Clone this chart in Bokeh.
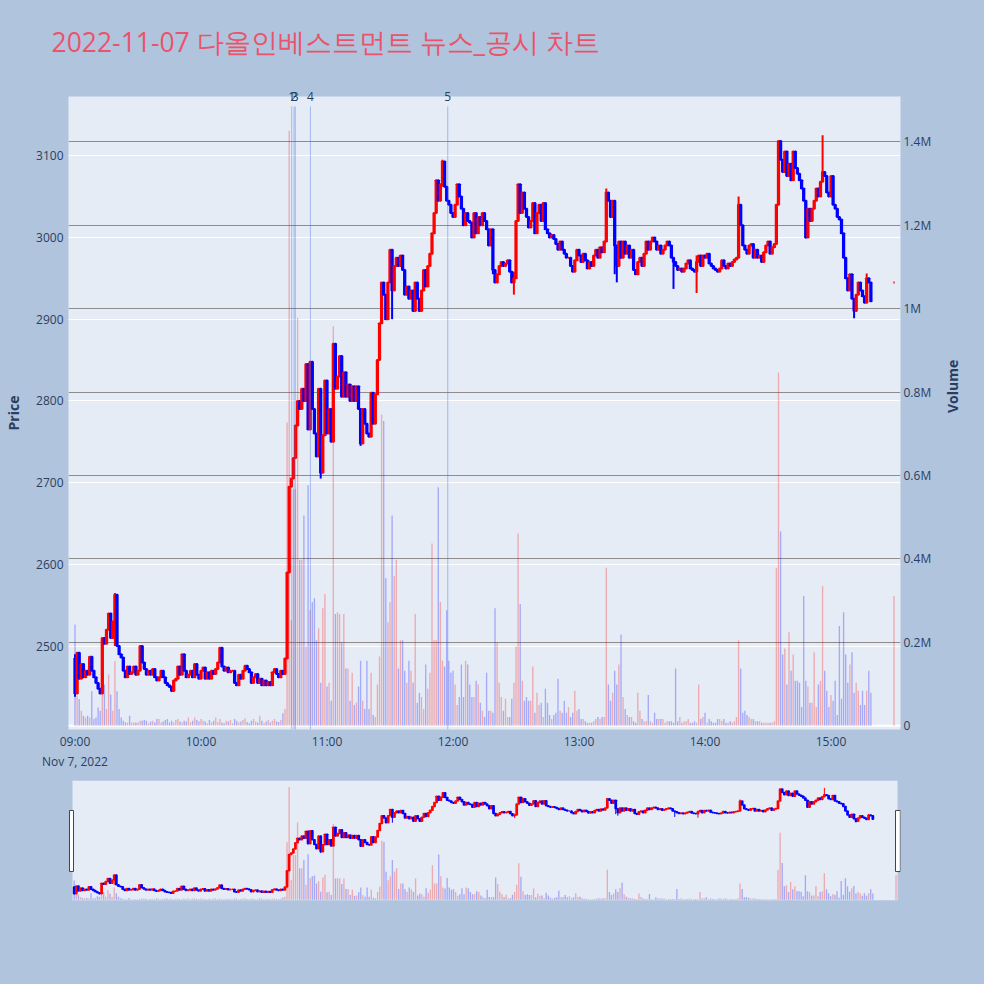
import sys, math
from bokeh.plotting import figure
from bokeh.models import Range1d, LinearAxis, FixedTicker, ColumnDataSource, Span, Grid
from bokeh.layouts import column
from bokeh.embed import file_html
from bokeh.resources import INLINE

# ---------------- data ----------------
TITLE = "2022-11-07 다올인베스트먼트 뉴스_공시 차트"
DATE_LABEL = "Nov 7, 2022"
PRICE_TITLE = "Price"
VOLUME_TITLE = "Volume"

first_open = 2485
# 1-minute closes from 09:00 (index = minutes after 09:00)
closes = [
    2442, 2492, 2460, 2478, 2462, 2470, 2465, 2487, 2470, 2462,
    2455, 2448, 2442, 2510, 2503, 2520, 2540, 2510, 2530, 2563,
    2500, 2490, 2486, 2470, 2462, 2475, 2466, 2468, 2475, 2465,
    2470, 2500, 2480, 2472, 2465, 2470, 2465, 2472, 2462, 2458,
    2462, 2470, 2462, 2455, 2452, 2450, 2445, 2458, 2460, 2475,
    2465, 2490, 2470, 2462, 2465, 2470, 2462, 2478, 2465, 2460,
    2470, 2474, 2460, 2468, 2460, 2470, 2466, 2472, 2480, 2498,
    2475, 2470, 2474, 2468, 2470, 2470, 2455, 2452, 2465, 2460,
    2470, 2476, 2472, 2468, 2455, 2462, 2466, 2455, 2460, 2452,
    2458, 2452, 2456, 2452, 2468, 2472, 2466, 2462, 2470, 2466,
    2485, 2590, 2695, 2705, 2730, 2770, 2800, 2790, 2815, 2800,
    2845, 2765, 2848, 2790, 2760, 2732, 2815, 2712, 2758, 2825,
    2760, 2790, 2750, 2870, 2815, 2830, 2855, 2805, 2835, 2805,
    2820, 2800, 2818, 2800, 2818, 2790, 2748, 2790, 2772, 2760,
    2756, 2810, 2772, 2808, 2850, 2895, 2945, 2930, 2900, 2945,
    2985, 2935, 2965, 2975, 2965, 2978, 2960, 2930, 2940, 2925,
    2935, 2910, 2945, 2925, 2910, 2935, 2960, 2940, 2965, 2980,
    3005, 3030, 3070, 3045, 3065, 3093, 3062, 3045, 3040, 3030,
    3025, 3040, 3065, 3050, 3035, 3015, 3030, 3020, 3018, 3000,
    3030, 3005, 3025, 3015, 3030, 3020, 3010, 2990, 3010, 2960,
    2945, 2955, 2965, 2970, 2965, 2968, 2972, 2958, 2945, 2950,
    3020, 3065, 3030, 3055, 3035, 3025, 3012, 3020, 3042, 3005,
    3030, 3040, 3020, 3042, 3010, 3005, 3000, 3003, 2998, 2992,
    2985, 2995, 2985, 2980, 2975, 2975, 2965, 2958, 2972, 2985,
    2978, 2970, 2980, 2972, 2962, 2970, 2965, 2978, 2985, 2975,
    2988, 2982, 2995, 3055, 3045, 3025, 3045, 2990, 2965, 2995,
    2975, 2995, 2980, 2990, 2975, 2985, 2960, 2955, 2970, 2975,
    2965, 2980, 2995, 2985, 2995, 3000, 2995, 2985, 2990, 2980,
    2985, 2990, 2995, 2990, 2975, 2970, 2965, 2960, 2962, 2958,
    2962, 2968, 2972, 2962, 2960, 2958, 2970, 2978, 2965, 2978,
    2975, 2980, 2968, 2965, 2962, 2960, 2958, 2962, 2972, 2965,
    2962, 2968, 2965, 2970, 2973, 2975, 3040, 3015, 2990, 2985,
    2980, 2990, 2992, 2975, 2985, 2975, 2978, 2970, 2982, 2990,
    2995, 2980, 2988, 2992, 3040, 3118, 3095, 3080, 3105, 3075,
    3090, 3070, 3105, 3085, 3078, 3070, 3060, 3045, 3000, 3035,
    3020, 3035, 3045, 3060, 3050, 3068, 3080, 3075, 3055, 3050,
    3075, 3040, 3035, 3025, 3022, 3005, 2975, 2950, 2935, 2955,
    2925, 2910, 2930, 2945, 2935, 2928, 2920, 2950, 2945, 2922,
]

# wick extremes (minute, low, high) where the wick goes beyond the body
wick_minutes = [0, 19, 117, 136, 151, 175, 199, 209, 253, 257, 258, 285, 296, 316, 348, 356, 371, 377]
wick_lows = [2438, 2500, 2705, 2745, 2900, 3062, 2955, 2930, 2995, 2955, 2945, 2937, 2932, 2975, 2999, 3080, 2901, 2945]
wick_highs = [2490, 2565, 2760, 2790, 2985, 3095, 3010, 2958, 3060, 3045, 2990, 2975, 2978, 3050, 3045, 3125, 2925, 2956]

# volume per minute, thousands of shares
volumes_k = [
    243, 72, 64, 36, 24, 20, 24, 20, 83, 16,
    20, 44, 36, 79, 99, 40, 123, 75, 36, 155,
    83, 40, 20, 12, 8, 8, 24, 8, 8, 8,
    8, 12, 12, 14, 12, 6, 10, 12, 8, 16,
    16, 8, 10, 14, 16, 8, 12, 8, 14, 16,
    10, 8, 12, 10, 20, 8, 12, 20, 14, 10,
    16, 12, 10, 6, 14, 8, 12, 20, 9, 16,
    8, 6, 12, 10, 14, 6, 16, 12, 8, 10,
    14, 18, 9, 6, 12, 16, 10, 8, 24, 12,
    6, 10, 14, 8, 12, 16, 10, 9, 14, 30,
    40, 727, 1427, 253, 567, 567, 978, 398, 398, 504,
    190, 577, 277, 297, 306, 205, 234, 103, 282, 316,
    94, 103, 60, 958, 268, 272, 268, 200, 268, 137,
    137, 60, 127, 50, 55, 94, 156, 60, 40, 156,
    40, 127, 26, 21, 99, 166, 746, 731, 354, 248,
    297, 504, 359, 398, 137, 205, 205, 132, 103, 156,
    132, 103, 268, 55, 79, 69, 40, 147, 89, 127,
    437, 205, 205, 572, 297, 156, 142, 277, 156, 127,
    132, 99, 50, 69, 147, 69, 156, 147, 99, 69,
    69, 108, 99, 55, 36, 21, 127, 36, 36, 31,
    282, 200, 103, 69, 36, 65, 21, 21, 65, 103,
    190, 461, 292, 108, 60, 69, 60, 60, 142, 31,
    79, 50, 55, 21, 89, 55, 26, 16, 26, 31,
    113, 36, 31, 60, 31, 45, 21, 31, 84, 36,
    40, 16, 16, 11, 7, 7, 7, 11, 16, 21,
    16, 21, 21, 379, 99, 60, 79, 132, 99, 147,
    219, 69, 40, 26, 21, 21, 11, 7, 79, 36,
    16, 11, 11, 74, 11, 7, 31, 16, 16, 16,
    16, 7, 11, 11, 11, 7, 137, 11, 21, 7,
    11, 11, 16, 7, 7, 11, 7, 99, 16, 21,
    31, 7, 16, 11, 7, 7, 16, 16, 11, 16,
    7, 7, 11, 7, 11, 21, 205, 137, 31, 36,
    26, 21, 16, 16, 11, 11, 11, 7, 7, 7,
    7, 7, 7, 11, 379, 847, 466, 171, 185, 99,
    224, 132, 171, 108, 108, 103, 45, 311, 108, 94,
    55, 55, 176, 45, 99, 108, 335, 132, 84, 45,
    74, 60, 108, 26, 239, 65, 272, 171, 103, 147,
    176, 79, 103, 84, 50, 84, 50, 84, 132, 79,
]

# closing auction (15:30)
auction_time = "15:30"
auction_price = 2945
auction_volume_k = 311

news_times = ["10:43:12", "10:44:18", "10:44:54", "10:52:06", "11:57:30"]
news_labels = ["1", "2", "3", "4", "5"]

price_ticks = [2500, 2600, 2700, 2800, 2900, 3000, 3100]
volume_ticks = [0, 200000, 400000, 600000, 800000, 1000000, 1200000, 1400000]
volume_tick_labels = ["0", "0.2M", "0.4M", "0.6M", "0.8M", "1M", "1.2M", "1.4M"]
time_tick_labels = ["09:00", "10:00", "11:00", "12:00", "13:00", "14:00", "15:00"]

# ---------------- helpers ----------------
def to_min(t):
    parts = [int(v) for v in t.split(":")]
    while len(parts) < 3:
        parts.append(0)
    return round((parts[0] - 9) * 60 + parts[1] + parts[2] / 60.0, 2)

RED = "#ff0000"
BLUE = "#0000ff"
BG = "#b0c4de"
PLOT_BG = "#e5ecf6"
FONT = "Open Sans"
TXT = "#2a3f5f"

n = len(closes)
minutes = list(range(n))
opens = [first_open] + closes[:-1]
highs = [max(o, c) for o, c in zip(opens, closes)]
lows = [min(o, c) for o, c in zip(opens, closes)]
for wm, wl, wh in zip(wick_minutes, wick_lows, wick_highs):
    if 0 <= wm < n:
        highs[wm] = max(highs[wm], wh)
        lows[wm] = min(lows[wm], wl)
colors = [RED if c >= o else BLUE for o, c in zip(opens, closes)]

am = to_min(auction_time)
candles = ColumnDataSource(dict(
    x=minutes + [am],
    top=[max(o, c) for o, c in zip(opens, closes)] + [auction_price],
    bottom=[min(o, c) for o, c in zip(opens, closes)] + [auction_price],
    high=highs + [auction_price],
    low=lows + [auction_price],
    color=colors + [RED],
))

nv = len(volumes_k)
vcolors = [colors[i] if i < n else BLUE for i in range(nv)]
vols = ColumnDataSource(dict(
    x=list(range(nv)) + [am],
    v=[k * 1000 for k in volumes_k] + [auction_volume_k * 1000],
    color=vcolors + [RED],
))
print("closes", n, "volumes", nv, file=sys.stderr)

PRICE_RANGE = (2398, 3172.4)
VOL_RANGE = (-9000, 1509000)
X_RANGE = (-3.1, 393.1)

def plain(fig):
    fig.background_fill_color = BG
    fig.border_fill_color = BG
    fig.outline_line_color = None

# ---------------- title strip ----------------
t = figure(width=984, height=80, x_range=Range1d(0, 1), y_range=Range1d(0, 1), title=TITLE,
           output_backend="svg", toolbar_location=None, x_axis_location=None, y_axis_location=None,
           min_border_left=68, min_border_right=84, min_border_top=0, min_border_bottom=0)
plain(t)
t.xgrid.visible = False
t.ygrid.visible = False
t.title.text_font = FONT
t.title.text_font_size = "26.5px"
t.title.text_font_style = "normal"
t.title.text_color = "#e9546b"
t.title.align = "left"
t.title.offset = -17
t.title.standoff = 42

# ---------------- main chart ----------------
p = figure(width=984, height=692, x_range=Range1d(*X_RANGE), y_range=Range1d(*PRICE_RANGE),
           output_backend="svg", toolbar_location=None,
           min_border_left=68, min_border_right=84, min_border_top=16, min_border_bottom=40)
p.extra_y_ranges = {"vol": Range1d(*VOL_RANGE)}
plain(p)
p.title.visible = False
p.background_fill_color = PLOT_BG

def style_axis(ax):
    ax.axis_line_color = None
    ax.major_tick_line_color = None
    ax.minor_tick_line_color = None
    ax.major_tick_out = 0
    ax.major_tick_in = 0
    ax.minor_tick_out = 0
    ax.minor_tick_in = 0
    ax.major_label_text_font = FONT
    ax.major_label_text_font_size = "12px"
    ax.major_label_text_color = TXT
    ax.axis_label_text_font = FONT
    ax.axis_label_text_font_size = "14px"
    ax.axis_label_text_font_style = "bold"
    ax.axis_label_text_color = TXT

yax = p.yaxis[0]
yax.ticker = FixedTicker(ticks=price_ticks)
yax.axis_label = PRICE_TITLE
style_axis(yax)
yax.major_label_standoff = 5
yax.axis_label_standoff = 10

vax = LinearAxis(y_range_name="vol", ticker=FixedTicker(ticks=volume_ticks),
                 major_label_overrides={tk: lb for tk, lb in zip(volume_ticks, volume_tick_labels)},
                 axis_label=VOLUME_TITLE)
style_axis(vax)
vax.major_label_standoff = 3
vax.axis_label_standoff = 18
try:
    vax.axis_label_orientation = math.pi / 2
except Exception as e:
    print("no axis_label_orientation:", e, file=sys.stderr)
p.add_layout(vax, "right")

xax = p.xaxis[0]
tick_minutes = [to_min(x) for x in time_tick_labels]
xax.ticker = FixedTicker(ticks=tick_minutes)
overrides = {m: l for m, l in zip(tick_minutes, time_tick_labels)}
overrides[tick_minutes[0]] = time_tick_labels[0] + "\n" + DATE_LABEL
xax.major_label_overrides = overrides
style_axis(xax)
xax.major_label_standoff = 3

news_m = [to_min(x) for x in news_times]
nax = LinearAxis(ticker=FixedTicker(ticks=news_m),
                 major_label_overrides={m: l for m, l in zip(news_m, news_labels)})
style_axis(nax)
nax.major_label_standoff = -4
p.add_layout(nax, "above")

p.xgrid.visible = False
p.ygrid.grid_line_color = "white"
p.ygrid.grid_line_width = 1
p.add_layout(Grid(dimension=1, ticker=FixedTicker(ticks=volume_ticks[1:]), y_range_name="vol",
                  grid_line_color="#8c8c8c", grid_line_width=1))
p.add_layout(Span(location=0, dimension="width", y_range_name="vol", line_color="white",
                  line_width=2, level="underlay"))

def draw_data(fig, body_lw, wick_lw):
    fig.vbar(x="x", top="v", bottom=0, width=0.65, source=vols, y_range_name="vol",
             fill_color="color", line_color=None, fill_alpha=0.28)
    fig.segment(x0="x", y0="low", x1="x", y1="high", source=candles, line_color="color",
                line_width=wick_lw)
    fig.vbar(x="x", top="top", bottom="bottom", width=0.6, source=candles,
             fill_color="color", line_color="color", line_width=body_lw)

draw_data(p, 2, 2)

p.segment(x0=news_m, y0=[VOL_RANGE[0]] * len(news_m), x1=news_m, y1=[1485000] * len(news_m),
          y_range_name="vol", line_color="royalblue", line_alpha=0.4, line_width=1)

# ---------------- range slider ----------------
s = figure(width=984, height=212, x_range=Range1d(-2.70, 392.13), y_range=Range1d(*PRICE_RANGE),
           output_backend="svg", toolbar_location=None, x_axis_location=None, y_axis_location=None,
           min_border_left=68, min_border_right=84, min_border_top=8, min_border_bottom=84)
s.extra_y_ranges = {"vol": Range1d(*VOL_RANGE)}
plain(s)
s.title.visible = False
s.xgrid.visible = False
s.ygrid.visible = False
s.quad(left=-0.81, right=am + 0.71, bottom=PRICE_RANGE[0], top=PRICE_RANGE[1],
       fill_color=PLOT_BG, line_color=None)
draw_data(s, 1.5, 1)
hb, ht = 2585, 2979
s.quad(left=[-2.23, am - 0.24], right=[-0.33, am + 2.05], bottom=[hb, hb], top=[ht, ht],
       fill_color="white", line_color="#444444", line_width=1)

layout = column(t, p, s, styles={"background-color": BG})
open("out.html", "w").write(file_html(layout, INLINE))
